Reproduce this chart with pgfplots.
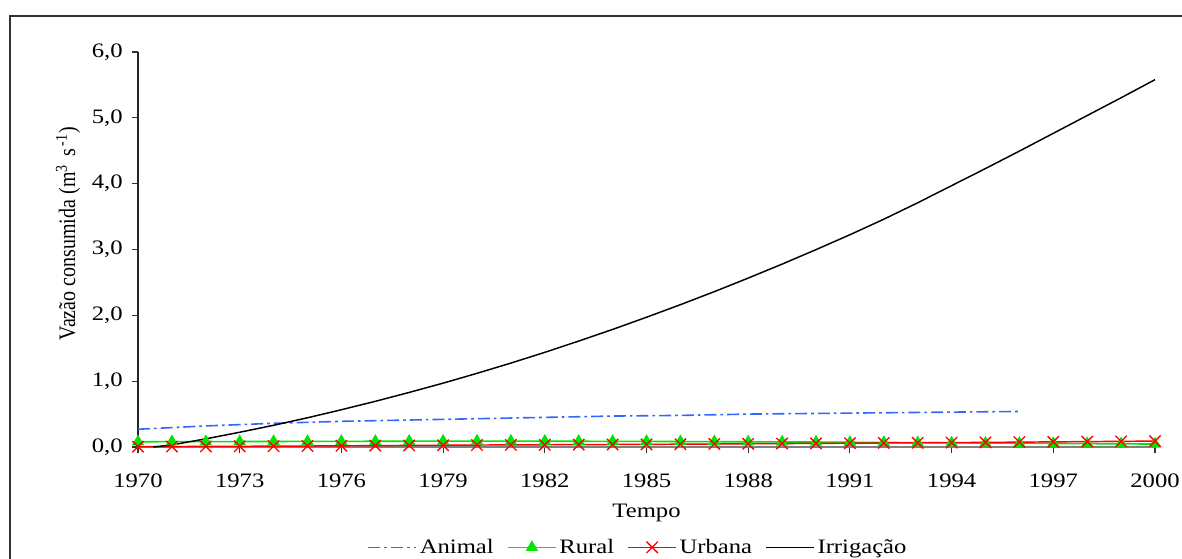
\documentclass[border=0pt]{standalone}
\usepackage{fontspec}
\setmainfont[FakeStretch=1.2]{Liberation Serif}
\newfontfamily\plainserif{Liberation Serif}
\usepackage{graphicx}
\usepackage{pgfplots}
\pgfplotsset{compat=1.18}
\definecolor{animalblue}{HTML}{3366FF}
\definecolor{ruralgreen}{HTML}{00E600}
\definecolor{urbanred}{HTML}{FF0000}
\begin{document}
\begin{tikzpicture}
\begin{axis}[
  at={(0,0)}, anchor=south west,
  scale only axis, width=762.75pt, height=296.25pt,
  xmin=1970, xmax=2000, ymin=0, ymax=6,
  axis lines*=left,
  x axis line style={draw=black!50, line width=1pt},
  y axis line style={draw=black!85, line width=0.9pt},
  tick align=outside, major tick length=4.5pt,
  xtick={1970,1973,1976,1979,1982,1985,1988,1991,1994,1997,2000},
  xticklabels={1970,1973,1976,1979,1982,1985,1988,1991,1994,1997,2000},
  ytick={0,1,2,3,4,5,6},
  yticklabels={{0,0},{1,0},{2,0},{3,0},{4,0},{5,0},{6,0}},
  every tick/.style={black!80, line width=0.8pt},
  tick label style={font=\fontsize{15.4pt}{17pt}\selectfont},
  xticklabel shift=12pt,
  yticklabel style={xshift=-3.5pt},
  xlabel={Tempo},
  xlabel style={font=\fontsize{15.4pt}{17pt}\selectfont, at={(axis description cs:0.5,-0.168)}, anchor=center},
  ylabel={\scalebox{1}[1.18]{\plainserif Vazão consumida (m\textsuperscript{3}\, s\textsuperscript{\,-1})}},
  ylabel style={font=\fontsize{15pt}{17pt}\selectfont, at={(axis description cs:-0.0688,0.54)}, anchor=center},
  legend columns=4,
  legend style={draw=none, fill=none, font=\fontsize{15.4pt}{17pt}\selectfont,
    at={(axis description cs:0.492,-0.254)}, anchor=center,
    /tikz/every even column/.append style={column sep=8pt}},
  legend image code/.code={
    \draw[mark repeat=2,mark phase=2,#1] plot coordinates {(0pt,0pt) (18pt,0pt) (36pt,0pt)};},
  clip=false,
]
\addplot[animalblue, line width=1.2pt, dash pattern=on 9pt off 3pt on 2pt off 3pt] coordinates {
(1970,0.27) (1972,0.32) (1974,0.36) (1976,0.39) (1978,0.41) (1980,0.43) (1982,0.45)
(1984,0.47) (1986,0.48) (1988,0.50) (1990,0.51) (1992,0.52) (1994,0.53) (1996,0.54)};
\addlegendentry{Animal}
\addplot[ruralgreen, line width=1.2pt, mark=triangle*, mark size=4.2pt, mark options={solid, fill=ruralgreen}] coordinates {
(1970,0.080) (1971,0.081) (1972,0.082) (1973,0.083) (1974,0.084) (1975,0.085)
(1976,0.086) (1977,0.087) (1978,0.088) (1979,0.089) (1980,0.090) (1981,0.089)
(1982,0.088) (1983,0.087) (1984,0.086) (1985,0.085) (1986,0.083) (1987,0.081)
(1988,0.079) (1989,0.077) (1990,0.075) (1991,0.072) (1992,0.069) (1993,0.066)
(1994,0.063) (1995,0.060) (1996,0.057) (1997,0.054) (1998,0.051) (1999,0.048) (2000,0.045)};
\addlegendentry{Rural}
\addplot[urbanred, line width=1.1pt, mark=x, mark size=6pt, mark options={solid, line width=1pt}] coordinates {
(1970,0.005) (1971,0.007) (1972,0.009) (1973,0.011) (1974,0.013) (1975,0.015)
(1976,0.018) (1977,0.021) (1978,0.024) (1979,0.027) (1980,0.030) (1981,0.032)
(1982,0.034) (1983,0.036) (1984,0.038) (1985,0.040) (1986,0.043) (1987,0.046)
(1988,0.049) (1989,0.052) (1990,0.055) (1991,0.058) (1992,0.061) (1993,0.064)
(1994,0.067) (1995,0.070) (1996,0.074) (1997,0.078) (1998,0.082) (1999,0.086) (2000,0.090)};
\addlegendentry{Urbana}
\addplot[black, line width=1.1pt] coordinates {
(1970.45,0.0) (1971,0.032) (1972,0.124) (1973,0.224) (1974,0.330) (1975,0.444)
(1976,0.566) (1977,0.694) (1978,0.829) (1979,0.970) (1980,1.119) (1981,1.275)
(1982,1.438) (1983,1.609) (1984,1.786) (1985,1.971) (1986,2.162) (1987,2.360)
(1988,2.566) (1989,2.778) (1990,2.998) (1991,3.224) (1992,3.460) (1993,3.710)
(1994,3.970) (1995,4.230) (1996,4.495) (1997,4.765) (1998,5.035) (1999,5.305) (2000,5.580)};
\addlegendentry{Irrigação}
\end{axis}
\draw[line width=1.5pt, black!80] (-96pt,-95pt) -- (-96pt,323.25pt) -- (795pt,323.25pt);
\pgfresetboundingbox
\useasboundingbox (-103.5pt,-83.25pt) rectangle (783pt,335.25pt);
\end{tikzpicture}
\end{document}
